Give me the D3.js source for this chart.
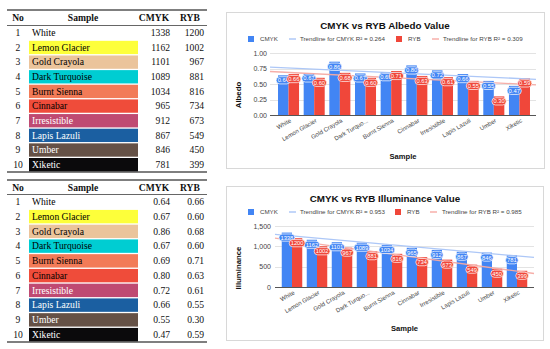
<!DOCTYPE html>
<html>
<head>
<meta charset="utf-8">
<script src="https://cdn.jsdelivr.net/npm/d3@7"></script>
<style>
  html, body { margin: 0; padding: 0; background: #fff; }
  svg { display: block; }
</style>
</head>
<body>
<svg id="fig" width="550" height="349"></svg>
<script>
// ---------- DATA ----------
const rowNumbers = [1, 2, 3, 4, 5, 6, 7, 8, 9, 10];
const samples = ["White", "Lemon Glacier", "Gold Crayola", "Dark Turquoise", "Burnt Sienna",
                 "Cinnabar", "Irresistible", "Lapis Lazuli", "Umber", "Xiketic"];
const xTickLabels = ["White", "Lemon Glacier", "Gold Crayola", "Dark Turquo...", "Burnt Sienna",
                     "Cinnabar", "Irresistible", "Lapis Lazuli", "Umber", "Xiketic"];
const illuminanceCMYK = [1338, 1162, 1101, 1089, 1034, 965, 912, 867, 846, 781];
const illuminanceRYB  = [1200, 1002, 967, 881, 816, 734, 673, 549, 450, 399];
const albedoCMYK = [0.64, 0.67, 0.86, 0.67, 0.69, 0.80, 0.72, 0.66, 0.55, 0.47];
const albedoRYB  = [0.66, 0.60, 0.68, 0.60, 0.71, 0.63, 0.61, 0.55, 0.30, 0.59];
const albedoTicks = [0, 0.25, 0.5, 0.75, 1.0];
const illuminanceTicks = [0, 500, 1000, 1500];
const albedoLegend = ["CMYK", "Trendline for CMYK R\u00B2 = 0.264", "RYB", "Trendline for RYB R\u00B2 = 0.309"];
const illuminanceLegend = ["CMYK", "Trendline for CMYK R\u00B2 = 0.953", "RYB", "Trendline for RYB R\u00B2 = 0.985"];

// swatch colours of the sample cells (style)
const cellFill = ["#ffffff", "#fdff3a", "#ebc49b", "#00cdd2", "#f27b58", "#ef4c3a",
                  "#bf4a72", "#1b5fa1", "#655146", "#0b0a0c"];
const cellText = ["#000", "#000", "#000", "#000", "#000", "#000", "#fff", "#fff", "#fff", "#fff"];

const BLUE = "#4285f4", RED = "#f0473a";
const BLUE_T = "#a9c5f7", RED_T = "#f6aaa4";

const svg = d3.select("#fig");

// ---------- TABLES ----------
function drawTable(cfg) {
  const g = svg.append("g").attr("font-family", "'Liberation Serif', 'Times New Roman', serif")
               .attr("font-size", 9.6);
  const y = d3.scaleBand().domain(d3.range(samples.length)).range(cfg.rowRange).paddingInner(0.09).paddingOuter(0.045);
  const x = { no: 18, sampleL: 29, sampleR: 138, sampleText: 32, cmyk: 170, ryb: 204,
              hSample: 83, hCmyk: 154, hRyb: 190 };
  // header
  const hy = cfg.headerY;
  const header = [["No", x.no], ["Sample", x.hSample], ["CMYK", x.hCmyk], ["RYB", x.hRyb]];
  g.selectAll("text.h").data(header).join("text")
    .attr("x", d => d[1]).attr("y", hy).attr("dy", "0.35em")
    .attr("text-anchor", "middle").attr("font-weight", "bold").attr("fill", "#111")
    .text(d => d[0]);
  // rules
  g.append("line").attr("x1", 7).attr("x2", 207).attr("y1", cfg.top).attr("y2", cfg.top)
    .attr("stroke", "#555").attr("stroke-width", 1.6);
  g.append("line").attr("x1", 7).attr("x2", 207).attr("y1", cfg.under).attr("y2", cfg.under)
    .attr("stroke", "#666").attr("stroke-width", 1.1);
  g.append("line").attr("x1", 7).attr("x2", 207).attr("y1", cfg.bottom).attr("y2", cfg.bottom)
    .attr("stroke", "#555").attr("stroke-width", 1.6);
  // rows
  const rows = g.selectAll("g.row").data(d3.range(samples.length)).join("g");
  rows.append("rect")
    .attr("x", x.sampleL).attr("width", x.sampleR - x.sampleL)
    .attr("y", i => y(i)).attr("height", y.bandwidth())
    .attr("fill", i => cellFill[i]);
  const cy = i => y(i) + y.bandwidth() / 2;
  rows.append("text").attr("x", x.no).attr("y", cy).attr("dy", "0.35em")
    .attr("text-anchor", "middle").attr("fill", "#111").text(i => rowNumbers[i]);
  rows.append("text").attr("x", x.sampleText).attr("y", cy).attr("dy", "0.35em")
    .attr("fill", i => cellText[i]).text(i => samples[i]);
  rows.append("text").attr("x", x.cmyk).attr("y", cy).attr("dy", "0.35em")
    .attr("text-anchor", "end").attr("fill", "#111").text(i => cfg.fmt(cfg.cmyk[i]));
  rows.append("text").attr("x", x.ryb).attr("y", cy).attr("dy", "0.35em")
    .attr("text-anchor", "end").attr("fill", "#111").text(i => cfg.fmt(cfg.ryb[i]));
}

drawTable({ top: 10, headerY: 18, under: 25.5, bottom: 172, rowRange: [25.5, 172],
            cmyk: illuminanceCMYK, ryb: illuminanceRYB, fmt: d3.format("d") });
drawTable({ top: 180, headerY: 188, under: 194.5, bottom: 342, rowRange: [194.5, 342],
            cmyk: albedoCMYK, ryb: albedoRYB, fmt: d3.format(".2f") });

// ---------- CHARTS ----------
function linreg(vals) {
  const n = vals.length, xs = d3.range(n);
  const mx = d3.mean(xs), my = d3.mean(vals);
  const sxy = d3.sum(xs, (x, i) => (x - mx) * (vals[i] - my));
  const sxx = d3.sum(xs, x => (x - mx) * (x - mx));
  const b = sxy / sxx;
  return x => my + b * (x - mx);
}

function drawChart(c) {
  const g = svg.append("g").attr("font-family", "'Liberation Sans', Arial, sans-serif");
  g.append("rect").attr("x", c.panel[0] + 0.5).attr("y", c.panel[1] + 0.5)
    .attr("width", c.panel[2]).attr("height", c.panel[3])
    .attr("fill", "#fff").attr("stroke", "#d8d8d8").attr("stroke-width", 1);

  g.append("text").attr("x", c.titleX).attr("y", c.titleY).attr("dy", "0.35em")
    .attr("text-anchor", "middle").attr("font-weight", "bold").attr("font-size", 9.8)
    .attr("fill", "#111").text(c.title);

  // legend
  const ly = c.legendY, L = c.legend, lf = 6.2;
  const lg = g.append("g").attr("font-size", lf).attr("fill", "#444");
  lg.append("rect").attr("x", c.lx[0]).attr("y", ly - 3).attr("width", 6).attr("height", 6).attr("fill", BLUE);
  lg.append("text").attr("x", c.lx[1]).attr("y", ly).attr("dy", "0.35em").text(L[0]);
  lg.append("line").attr("x1", c.lx[2]).attr("x2", c.lx[2] + 7).attr("y1", ly).attr("y2", ly)
    .attr("stroke", BLUE_T).attr("stroke-width", 1.4);
  lg.append("text").attr("x", c.lx[3]).attr("y", ly).attr("dy", "0.35em").text(L[1]);
  lg.append("rect").attr("x", c.lx[4]).attr("y", ly - 3).attr("width", 6).attr("height", 6).attr("fill", RED);
  lg.append("text").attr("x", c.lx[5]).attr("y", ly).attr("dy", "0.35em").text(L[2]);
  lg.append("line").attr("x1", c.lx[6]).attr("x2", c.lx[6] + 7).attr("y1", ly).attr("y2", ly)
    .attr("stroke", RED_T).attr("stroke-width", 1.4);
  lg.append("text").attr("x", c.lx[7]).attr("y", ly).attr("dy", "0.35em").text(L[3]);

  const y = d3.scaleLinear().domain([0, c.ticks[c.ticks.length - 1]]).range(c.yRange);
  const x = d3.scaleBand().domain(d3.range(samples.length)).range(c.barRange).paddingInner(0).paddingOuter(0);
  const inner = d3.scaleBand().domain([0, 1]).range([0, x.bandwidth()]).paddingInner(0).paddingOuter(0.22);
  const idx = d3.scaleLinear().domain([0, samples.length - 1])
    .range([x(0) + x.bandwidth() / 2, x(samples.length - 1) + x.bandwidth() / 2]);

  // gridlines
  g.append("g").selectAll("line").data(c.ticks.slice(1)).join("line")
    .attr("x1", c.gridX[0]).attr("x2", c.gridX[1])
    .attr("y1", d => Math.round(y(d)) + 0.5).attr("y2", d => Math.round(y(d)) + 0.5)
    .attr("stroke", "#e3e3e3").attr("stroke-width", 1);

  // y axis labels
  const yAxis = d3.axisLeft(y).tickValues(c.ticks).tickFormat(c.tickFmt).tickSize(0).tickPadding(0);
  const ya = g.append("g").attr("transform", `translate(${c.yLabelX},0)`).call(yAxis);
  ya.select(".domain").remove();
  ya.selectAll("text").attr("font-size", 7).attr("fill", "#444").attr("font-family", "'Liberation Sans', Arial, sans-serif");

  // bars
  const series = [[c.cmyk, BLUE], [c.ryb, RED]];
  series.forEach(([vals, col], s) => {
    g.append("g").selectAll("rect").data(vals).join("rect")
      .attr("x", (d, i) => x(i) + inner(s)).attr("width", inner.bandwidth())
      .attr("y", d => y(d)).attr("height", d => y(0) - y(d))
      .attr("fill", col);
  });

  // baseline
  g.append("line").attr("x1", c.gridX[0]).attr("x2", c.gridX[1])
    .attr("y1", y(0) + 0.5).attr("y2", y(0) + 0.5).attr("stroke", "#555").attr("stroke-width", 1);

  // trendlines
  const i0 = idx.invert(c.gridX[0]), i1 = idx.invert(c.gridX[1]);
  [[c.cmyk, BLUE_T], [c.ryb, RED_T]].forEach(([vals, col]) => {
    const f = linreg(vals);
    g.append("line").attr("x1", c.gridX[0]).attr("x2", c.gridX[1])
      .attr("y1", y(f(i0))).attr("y2", y(f(i1)))
      .attr("stroke", col).attr("stroke-width", 1.3).attr("opacity", 0.95);
  });

  // data labels
  series.forEach(([vals, col], s) => {
    const lab = g.append("g").selectAll("g").data(vals).join("g")
      .attr("transform", (d, i) => `translate(${x(i) + inner(s) + inner.bandwidth() / 2},${y(d) + 5})`);
    const t = lab.append("text").attr("text-anchor", "middle").attr("dy", "0.35em")
      .attr("font-size", 5.8).attr("fill", "#fff").text(d => c.labelFmt(d));
    lab.each(function () {
      const node = d3.select(this);
      const w = node.select("text").node().getComputedTextLength() + 3;
      node.insert("rect", "text").attr("x", -w / 2).attr("y", -3.6).attr("width", w).attr("height", 7.2)
        .attr("rx", 3.6).attr("fill", col).attr("stroke", "#fff").attr("stroke-width", 0.7);
    });
  });

  // x labels
  g.append("g").selectAll("text").data(xTickLabels).join("text")
    .attr("transform", (d, i) => `translate(${x(i) + x.bandwidth() / 2 + 2},${y(0) + 5}) rotate(-30)`)
    .attr("text-anchor", "end").attr("dy", "0.35em")
    .attr("font-size", 6).attr("fill", "#444").text(d => d);

  // axis titles
  g.append("text").attr("x", (c.gridX[0] + c.gridX[1]) / 2).attr("y", c.xTitleY).attr("dy", "0.35em")
    .attr("text-anchor", "middle").attr("font-weight", "bold").attr("font-size", 7.6)
    .attr("fill", "#111").text("Sample");
  g.append("text").attr("transform", `translate(${c.yTitle[0]},${c.yTitle[1]}) rotate(-90)`)
    .attr("dy", "0.35em").attr("text-anchor", "middle").attr("font-weight", "bold").attr("font-size", 7.8)
    .attr("fill", "#111").text(c.yTitleText);
}

drawChart({
  panel: [226, 12, 318, 156], title: "CMYK vs RYB Albedo Value", titleX: 385, titleY: 26,
  legendY: 39, legend: albedoLegend, lx: [248, 260, 289, 300, 396, 408, 432, 443],
  ticks: albedoTicks, tickFmt: d3.format(".2f"), yRange: [115, 53],
  barRange: [275.7, 532.3], gridX: [270, 536], yLabelX: 267,
  cmyk: albedoCMYK, ryb: albedoRYB, labelFmt: d3.format(".2f"),
  xTitleY: 156, yTitle: [238, 95], yTitleText: "Albedo"
});

drawChart({
  panel: [226, 186, 317, 154], title: "CMYK vs RYB Illuminance Value", titleX: 385, titleY: 199,
  legendY: 212, legend: illuminanceLegend, lx: [248, 260, 289, 300, 395, 407, 430, 442],
  ticks: illuminanceTicks, tickFmt: d3.format(","), yRange: [287, 226],
  barRange: [279.5, 529.5], gridX: [275, 534], yLabelX: 271,
  cmyk: illuminanceCMYK, ryb: illuminanceRYB, labelFmt: d3.format("d"),
  xTitleY: 328, yTitle: [238, 268], yTitleText: "Illuminance"
});
</script>
</body>
</html>
